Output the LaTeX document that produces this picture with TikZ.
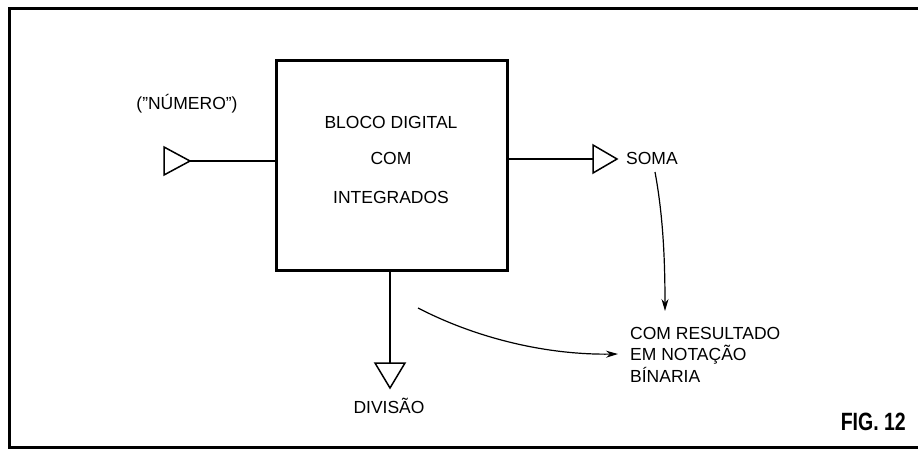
\documentclass[tikz,border=0pt]{standalone}
\usepackage{fontspec}
\setmainfont{Liberation Sans}
\usetikzlibrary{arrows.meta}
\begin{document}
\begin{tikzpicture}[x=1pt,y=-1pt,
  lbl/.style={font=\fontsize{17.5}{21}\selectfont, inner sep=0pt, anchor=base},
  tri/.style={draw, line width=1.5pt, line join=miter, fill=white},
  conn/.style={line width=1.2pt},
  arr/.style={line width=1.2pt, -{Stealth[length=12pt,width=7pt]}}]
\useasboundingbox (0,0) rectangle (918,453);
% frame
\draw[line width=3pt] (918,8) -- (9,8) -- (9,447) -- (918,447);
% main block
\node[draw, line width=3pt, minimum width=231pt, minimum height=210pt, inner sep=0pt] (box) at (391.5,165) {};
\node[lbl] (t1) at (391,128) {BLOCO DIGITAL};
\node[lbl] (t2) at (391,164) {COM};
\node[lbl] (t3) at (391,203) {INTEGRADOS};
% input
\coordinate (inA) at (164,147);
\coordinate (inB) at (164,175);
\coordinate (inTip) at (190,161);
\draw[conn] (inTip) -- (box.west |- inTip);
\draw[tri] (inA) -- (inB) -- (inTip) -- cycle;
\node[lbl] (num) at (187,109) {(\symbol{34}NÚMERO\symbol{34})};
% sum output
\coordinate (soA) at (593,145);
\coordinate (soB) at (593,173);
\coordinate (soTip) at (617,159);
\coordinate (soIn) at (593,159);
\draw[conn] (box.east |- soIn) -- (soIn);
\draw[tri] (soA) -- (soB) -- (soTip) -- cycle;
\node[lbl, anchor=base west] (soma) at (626,164) {SOMA};
% division output
\coordinate (dvA) at (375,363);
\coordinate (dvB) at (405,363);
\coordinate (dvTip) at (390,388);
\coordinate (dvIn) at (390,363);
\draw[conn] (box.south -| dvIn) -- (dvIn);
\draw[tri] (dvA) -- (dvB) -- (dvTip) -- cycle;
\node[lbl] (div) at (389,413) {DIVISÃO};
% result text
\node[lbl, anchor=base west] (r1) at (630,339) {COM RESULTADO};
\node[lbl, anchor=base west] (r2) at (630,360) {EM NOTAÇÃO};
\node[lbl, anchor=base west] (r3) at (630,382) {BÍNARIA};
% arrows
\coordinate (somaStart) at (655,172);
\coordinate (somaEnd) at (665,311);
\draw[arr] (somaStart) .. controls (662,210) and (665,250) .. (somaEnd);
\coordinate (divStart) at (418,308);
\coordinate (divEnd) at (618,354);
\draw[arr] (divStart) .. controls (480,340) and (550,355) .. (divEnd);
% figure label
\node[inner sep=0pt, anchor=base east] (fig) at (906,430) {\scalebox{0.78}[1]{\fontsize{25}{29}\selectfont\bfseries FIG. 12}};
\end{tikzpicture}
\end{document}
